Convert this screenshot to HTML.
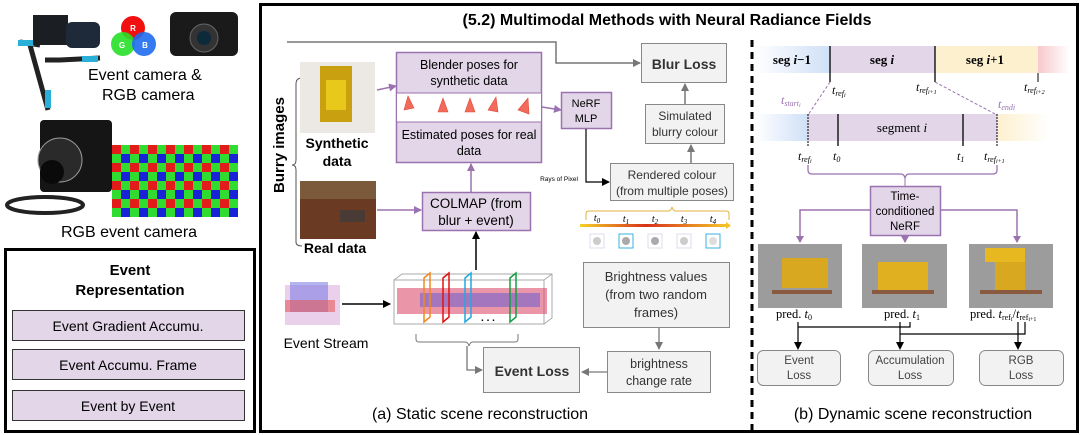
<!DOCTYPE html>
<html><head><meta charset="utf-8"><style>
body{margin:0;background:#fff;width:1081px;height:435px;overflow:hidden}
svg{display:block;font-family:"Liberation Sans",sans-serif}
.s{font-family:"Liberation Serif",serif}
</style></head><body>
<svg width="1081" height="435" viewBox="0 0 1081 435">
<defs>
<marker id="ap" markerWidth="8" markerHeight="8" refX="7" refY="4" orient="auto" markerUnits="userSpaceOnUse"><path d="M0,0 L8,4 L0,8 z" fill="#9b72b0"/></marker>
<marker id="ag" markerWidth="8" markerHeight="8" refX="7" refY="4" orient="auto" markerUnits="userSpaceOnUse"><path d="M0,0 L8,4 L0,8 z" fill="#777"/></marker>
<marker id="ak" markerWidth="8" markerHeight="8" refX="7" refY="4" orient="auto" markerUnits="userSpaceOnUse"><path d="M0,0 L8,4 L0,8 z" fill="#000"/></marker>
<pattern id="bayer" width="18" height="18" patternUnits="userSpaceOnUse" x="112" y="145">
<rect width="9" height="9" fill="#e21b1b"/><rect x="9" width="9" height="9" fill="#2fdc2f"/><rect y="9" width="9" height="9" fill="#2fdc2f"/><rect x="9" y="9" width="9" height="9" fill="#1a22d8"/>
</pattern>
<linearGradient id="gb" x1="0" x2="1"><stop offset="0" stop-color="#fff"/><stop offset="1" stop-color="#cfe0f7"/></linearGradient>
<linearGradient id="gy" x1="0" x2="1"><stop offset="0" stop-color="#fdf0cf"/><stop offset="1" stop-color="#fff"/></linearGradient>
<linearGradient id="gr" x1="0" x2="1"><stop offset="0" stop-color="#f7c9cc"/><stop offset="1" stop-color="#fff"/></linearGradient>
<linearGradient id="tl" x1="0" x2="1"><stop offset="0" stop-color="#f5d22a"/><stop offset="0.45" stop-color="#d6321a"/><stop offset="1" stop-color="#f5c22a"/></linearGradient>
</defs>

<g>
<path d="M30 45 L48 110 M45 60 L60 60 L100 58 M40 45 L20 42" stroke="#222" stroke-width="5"/>
<rect x="18" y="40" width="16" height="6" fill="#2ab0d8"/><rect x="82" y="56" width="16" height="6" fill="#2ab0d8"/><rect x="45" y="90" width="6" height="18" fill="#2ab0d8"/>
<rect x="33" y="15" width="35" height="30" fill="#1b1f24"/><rect x="66" y="22" width="34" height="26" rx="6" fill="#1e2a3a"/>
<circle cx="133" cy="28" r="12" fill="#f01010"/><circle cx="123" cy="44" r="12" fill="#27e027" opacity=".9"/><circle cx="144" cy="44" r="12" fill="#1f6cf0" opacity=".9"/>
<text x="133" y="31" font-size="8" fill="#fff" text-anchor="middle" font-weight="bold">R</text>
<text x="122" y="48" font-size="8" fill="#fff" text-anchor="middle" font-weight="bold">G</text>
<text x="145" y="48" font-size="8" fill="#fff" text-anchor="middle" font-weight="bold">B</text>
<rect x="170" y="12" width="68" height="44" rx="6" fill="#1a1a1a"/><circle cx="204" cy="38" r="14" fill="#333" stroke="#666"/><circle cx="204" cy="38" r="7" fill="#0d2a3a"/>
<text x="88" y="80" font-size="16">Event camera &amp;</text>
<text x="102" y="100" font-size="16">RGB camera</text>
<rect x="40" y="120" width="72" height="72" rx="4" fill="#151515"/><circle cx="60" cy="160" r="22" fill="#2a2a2a" stroke="#999"/><circle cx="52" cy="172" r="12" fill="#0a0a0a"/>
<ellipse cx="45" cy="205" rx="38" ry="8" fill="none" stroke="#222" stroke-width="4"/>
<rect x="112" y="145" width="126" height="72" fill="url(#bayer)"/>
<text x="61" y="237" font-size="16">RGB event camera</text>
</g>

<rect x="5.5" y="249.5" width="249" height="182" fill="#fff" stroke="#000" stroke-width="3"/>
<text x="130" y="275" font-size="15" font-weight="bold" text-anchor="middle">Event</text>
<text x="130" y="295" font-size="15" font-weight="bold" text-anchor="middle">Representation</text>
<g font-size="14" text-anchor="middle">
<rect x="12.5" y="310.5" width="232" height="30" fill="#e2d6e8" stroke="#333"/><text x="128" y="331">Event Gradient Accumu.</text>
<rect x="12.5" y="349.5" width="232" height="30" fill="#e2d6e8" stroke="#333"/><text x="128" y="370">Event Accumu. Frame</text>
<rect x="12.5" y="390.5" width="232" height="30" fill="#e2d6e8" stroke="#333"/><text x="128" y="411">Event by Event</text>
</g>

<rect x="260.5" y="4.5" width="817" height="427" fill="none" stroke="#000" stroke-width="3"/>
<text x="667" y="25" font-size="16" font-weight="bold" text-anchor="middle">(5.2) Multimodal Methods with Neural Radiance Fields</text>
<line x1="752" y1="40" x2="752" y2="430" stroke="#000" stroke-width="3" stroke-dasharray="7,5"/>

<text transform="translate(284,145) rotate(-90)" font-size="15" font-weight="bold" text-anchor="middle">Burry images</text>
<path d="M302 78 Q296 78 296 84 L296 160 Q296 165 292 165 Q296 165 296 170 L296 242 Q296 246 302 246" fill="none" stroke="#555"/>
<rect x="300" y="62" width="75" height="71" fill="#ece9e4"/><rect x="320" y="66" width="32" height="56" fill="#c8a010"/><rect x="326" y="80" width="20" height="30" fill="#e8c81a"/>
<text x="337" y="148" font-size="14" font-weight="bold" text-anchor="middle">Synthetic</text>
<text x="337" y="166" font-size="14" font-weight="bold" text-anchor="middle">data</text>
<rect x="300" y="181" width="76" height="58" fill="#6a3a22"/><rect x="300" y="181" width="76" height="18" fill="#7a5a3a"/><rect x="340" y="210" width="25" height="12" fill="#4a3a35"/>
<text x="335" y="253" font-size="14" font-weight="bold" text-anchor="middle">Real data</text>

<path d="M287 42 H556 V63 H640" fill="none" stroke="#777" stroke-width="1.5" marker-end="url(#ag)"/>
<line x1="377" y1="90" x2="396" y2="86" stroke="#9b72b0" stroke-width="1.5" marker-end="url(#ap)"/>
<line x1="377" y1="210" x2="421" y2="210" stroke="#9b72b0" stroke-width="1.5" marker-end="url(#ap)"/>

<rect x="396.5" y="52.5" width="145" height="110" fill="#e2d6e8" stroke="#9b72b0" stroke-width="1.5"/>
<rect x="397" y="93" width="144" height="29" fill="#fff"/>
<line x1="397" y1="93" x2="541" y2="93" stroke="#9b72b0"/><line x1="397" y1="122" x2="541" y2="122" stroke="#9b72b0"/>
<g fill="#f26a5a" stroke="#e04a3a" stroke-width=".6">
<path d="M404 110 l4 -14 l6 12 z"/><path d="M438 112 l5 -14 l5 14 z"/><path d="M465 112 l5 -14 l5 14 z"/><path d="M488 110 l8 -13 l2 15 z"/><path d="M518 110 l10 -12 l1 16 z"/>
</g>
<g font-size="12.5" text-anchor="middle">
<text x="469" y="69">Blender poses for</text><text x="469" y="85">synthetic data</text>
<text x="469" y="139">Estimated poses for real</text><text x="469" y="155">data</text>
</g>
<line x1="542" y1="107" x2="561" y2="110" stroke="#9b72b0" stroke-width="1.5" marker-end="url(#ap)"/>
<rect x="561.5" y="92.5" width="50" height="36" fill="#e2d6e8" stroke="#9b72b0" stroke-width="1.5"/>
<text x="586" y="107" font-size="11" text-anchor="middle">NeRF</text><text x="586" y="122" font-size="11" text-anchor="middle">MLP</text>

<rect x="422.5" y="192.5" width="108" height="38" fill="#e2d6e8" stroke="#9b72b0" stroke-width="1.5"/>
<text x="476" y="208" font-size="13.5" text-anchor="middle">COLMAP (from</text><text x="476" y="225" font-size="13.5" text-anchor="middle">blur + event)</text>
<line x1="471" y1="192" x2="471" y2="164" stroke="#9b72b0" stroke-width="1.5" marker-end="url(#ap)"/>
<line x1="476" y1="270" x2="476" y2="232" stroke="#000" stroke-width="1.5" marker-end="url(#ak)"/>

<rect x="641.5" y="43.5" width="85" height="39" fill="#f2f2f2" stroke="#888"/>
<text x="684" y="69" font-size="14" font-weight="bold" fill="#333" text-anchor="middle">Blur Loss</text>
<rect x="645.5" y="104.5" width="79" height="39" fill="#f2f2f2" stroke="#888"/>
<text x="685" y="120" font-size="12" fill="#333" text-anchor="middle">Simulated</text><text x="685" y="136" font-size="12" fill="#333" text-anchor="middle">blurry colour</text>
<line x1="685" y1="104" x2="685" y2="84" stroke="#777" stroke-width="1.5" marker-end="url(#ag)"/>
<rect x="610.5" y="163.5" width="123" height="37" fill="#f2f2f2" stroke="#888"/>
<text x="672" y="179" font-size="12" fill="#333" text-anchor="middle">Rendered colour</text><text x="672" y="195" font-size="12" fill="#333" text-anchor="middle">(from multiple poses)</text>
<line x1="691" y1="163" x2="691" y2="145" stroke="#777" stroke-width="1.5" marker-end="url(#ag)"/>
<path d="M586 129 V182 H609" fill="none" stroke="#000" stroke-width="1.2" marker-end="url(#ak)"/>
<text x="578" y="181" font-size="6.5" text-anchor="end">Rays of Pixel</text>
<path d="M586 220 v-6 q0 -3 3 -3 h79 q3 0 4 -4 q1 4 4 4 h50 q3 0 3 3 v6" fill="none" stroke="#e0b040"/>
<rect x="580" y="224" width="146" height="3" fill="url(#tl)"/><path d="M726 222 l5 3.5 l-5 3.5z" fill="#f5c22a"/>
<g class="s" font-size="10" font-style="italic" text-anchor="middle">
<text x="597" y="221">t<tspan font-size="7" dy="2">0</tspan></text><text x="626" y="222">t<tspan font-size="7" dy="2">1</tspan></text><text x="655" y="222">t<tspan font-size="7" dy="2">2</tspan></text><text x="684" y="222">t<tspan font-size="7" dy="2">3</tspan></text><text x="713" y="222">t<tspan font-size="7" dy="2">4</tspan></text>
</g>
<g>
<rect x="590" y="234" width="14" height="14" fill="#fff" stroke="#dde"/><circle cx="597" cy="241" r="4" fill="#ccc"/>
<rect x="619" y="234" width="14" height="14" fill="#fff" stroke="#3ab0e0"/><circle cx="626" cy="241" r="4" fill="#aaa"/>
<rect x="648" y="234" width="14" height="14" fill="#fff" stroke="#dde"/><circle cx="655" cy="241" r="4" fill="#aaa"/>
<rect x="677" y="234" width="14" height="14" fill="#fff" stroke="#dde"/><circle cx="684" cy="241" r="4" fill="#ccc"/>
<rect x="706" y="234" width="14" height="14" fill="#fff" stroke="#3ab0e0"/><circle cx="713" cy="241" r="4" fill="#ddd"/>
</g>

<g opacity=".85">
<rect x="285" y="285" width="55" height="40" fill="#e8c8e8"/>
<rect x="290" y="282" width="38" height="30" fill="#6a6ae0" opacity=".6"/><rect x="285" y="300" width="50" height="12" fill="#e04040" opacity=".6"/>
</g>
<text x="326" y="348" font-size="14" text-anchor="middle">Event Stream</text>
<line x1="342" y1="304" x2="390" y2="304" stroke="#000" stroke-width="1.5" marker-end="url(#ak)"/>
<g stroke="#aaa" fill="none"><rect x="394" y="280" width="150" height="44"/><path d="M394 280 l8 -6 h150 v44 l-8 6 M544 280 l8 -6"/></g>
<rect x="397" y="288" width="150" height="26" fill="#d84060" opacity=".55"/><rect x="420" y="293" width="120" height="14" fill="#5050d8" opacity=".45"/>
<g fill="none" stroke-width="1.5"><path d="M424 278 l6 -5 v44 l-6 5z" stroke="#f08a20"/><path d="M443 278 l6 -5 v44 l-6 5z" stroke="#e01010"/><path d="M465 278 l6 -5 v44 l-6 5z" stroke="#20a8e0"/><path d="M510 278 l6 -5 v44 l-6 5z" stroke="#10a040"/></g>
<text x="488" y="321" font-size="10" text-anchor="middle" font-weight="bold">. . .</text>
<path d="M416 334 v5 q0 3 3 3 h46 q3 0 4 4 q1 -4 4 -4 h42 q3 0 3 -3 v-5" fill="none" stroke="#777"/>
<path d="M467 346 V370 H482" fill="none" stroke="#777" stroke-width="1.3" marker-end="url(#ag)"/>
<rect x="483.5" y="347.5" width="96" height="45" fill="#f2f2f2" stroke="#888"/>
<text x="532" y="376" font-size="14" font-weight="bold" fill="#333" text-anchor="middle">Event Loss</text>
<rect x="583.5" y="262.5" width="146" height="65" fill="#f2f2f2" stroke="#888"/>
<g font-size="13" fill="#333" text-anchor="middle"><text x="656" y="281">Brightness values</text><text x="656" y="299">(from two random</text><text x="656" y="317">frames)</text></g>
<line x1="659" y1="328" x2="659" y2="349" stroke="#777" stroke-width="1.3" marker-end="url(#ag)"/>
<rect x="607.5" y="351.5" width="103" height="41" fill="#f2f2f2" stroke="#888"/>
<text x="659" y="368" font-size="12.5" fill="#333" text-anchor="middle">brightness</text><text x="659" y="385" font-size="12.5" fill="#333" text-anchor="middle">change rate</text>
<line x1="607" y1="372" x2="582" y2="372" stroke="#777" stroke-width="1.3" marker-end="url(#ag)"/>
<text x="480" y="419" font-size="16" text-anchor="middle">(a) Static scene reconstruction</text>

<rect x="755" y="46" width="75" height="27" fill="url(#gb)"/><rect x="830" y="46" width="105" height="27" fill="#e2d6e8"/><rect x="935" y="46" width="103" height="27" fill="#fdf0cf"/><rect x="1038" y="46" width="32" height="27" fill="url(#gr)"/>
<line x1="830" y1="46" x2="830" y2="82" stroke="#000" stroke-width="1.3"/><line x1="935" y1="46" x2="935" y2="82" stroke="#000" stroke-width="1.3"/><line x1="1038" y1="73" x2="1038" y2="82" stroke="#000"/>
<g class="s" font-size="13" font-weight="bold" text-anchor="middle"><text x="792" y="64">seg <tspan font-style="italic">i</tspan>−1</text><text x="882" y="64">seg <tspan font-style="italic">i</tspan></text><text x="985" y="64">seg <tspan font-style="italic">i</tspan>+1</text></g>
<g class="s" font-size="12" font-style="italic">
<text x="832" y="94">t<tspan font-size="8" dy="2">ref<tspan font-size="6" dy="1">i</tspan></tspan></text>
<text x="916" y="91">t<tspan font-size="8" dy="2">ref<tspan font-size="6" dy="1">i+1</tspan></tspan></text>
<text x="1024" y="91">t<tspan font-size="8" dy="2">ref<tspan font-size="6" dy="1">i+2</tspan></tspan></text>
<text x="781" y="104" fill="#9b72b0">t<tspan font-size="8" dy="2">start<tspan font-size="6" dy="1">i</tspan></tspan></text>
<text x="998" y="108" fill="#9b72b0">t<tspan font-size="8" dy="2">endi</tspan></text>
</g>
<path d="M830 82 L808 115 M935 82 L997 115" stroke="#9b72b0" stroke-dasharray="3,2" fill="none"/>
<rect x="755" y="114" width="53" height="27" fill="url(#gb)"/><rect x="808" y="114" width="189" height="27" fill="#e2d6e8"/><rect x="997" y="114" width="53" height="27" fill="url(#gy)"/>
<line x1="808" y1="114" x2="808" y2="146" stroke="#000" stroke-dasharray="2,1"/><line x1="838" y1="114" x2="838" y2="146" stroke="#000" stroke-width="1.3"/><line x1="963" y1="114" x2="963" y2="146" stroke="#000" stroke-width="1.3"/><line x1="997" y1="114" x2="997" y2="146" stroke="#000" stroke-dasharray="2,1"/>
<text x="902" y="132" class="s" font-size="13" text-anchor="middle">segment <tspan font-style="italic">i</tspan></text>
<g class="s" font-size="12" font-style="italic">
<text x="798" y="160">t<tspan font-size="8" dy="2">ref<tspan font-size="6" dy="1">i</tspan></tspan></text>
<text x="833" y="160">t<tspan font-size="8" dy="2">0</tspan></text>
<text x="957" y="160">t<tspan font-size="8" dy="2">1</tspan></text>
<text x="984" y="160">t<tspan font-size="8" dy="2">ref<tspan font-size="6" dy="1">i+1</tspan></tspan></text>
</g>
<path d="M808 165 v5 q0 4 4 4 h89 q3 0 4 4 q1 -4 4 -4 h84 q4 0 4 -4 v-5" fill="none" stroke="#9b72b0" stroke-width="1.3"/>
<line x1="905" y1="178" x2="905" y2="186" stroke="#9b72b0"/>
<rect x="870.5" y="186.5" width="70" height="49" fill="#e2d6e8" stroke="#9b72b0" stroke-width="1.5"/>
<g font-size="11.5" text-anchor="middle"><text x="905" y="200">Time-</text><text x="905" y="215">conditioned</text><text x="905" y="230">NeRF</text></g>
<path d="M870 210 H800 V242 M905 236 V242 M940 210 H1017 V242" fill="none" stroke="#9b72b0" stroke-width="1.5"/>
<path d="M796 236 l4 7 l4 -7z M901 236 l4 7 l4 -7z M1013 236 l4 7 l4 -7z" fill="#9b72b0"/>
<g>
<rect x="758" y="244" width="84" height="64" fill="#9c9c9c"/><rect x="782" y="258" width="46" height="30" fill="#d8a820"/><rect x="772" y="290" width="60" height="4" fill="#8a5a40"/>
<rect x="862" y="244" width="85" height="64" fill="#9c9c9c"/><rect x="878" y="262" width="50" height="28" fill="#e0b020"/><rect x="872" y="290" width="62" height="4" fill="#8a5a40"/>
<rect x="969" y="244" width="84" height="64" fill="#9c9c9c"/><rect x="985" y="248" width="40" height="14" fill="#e8b820"/><rect x="995" y="262" width="30" height="28" fill="#d8a820"/><rect x="980" y="290" width="62" height="4" fill="#8a5a40"/>
</g>
<g class="s" font-size="12.5"><text x="776" y="318">pred. <tspan font-style="italic">t</tspan><tspan font-size="8" dy="2">0</tspan></text><text x="884" y="318">pred. <tspan font-style="italic">t</tspan><tspan font-size="8" dy="2">1</tspan></text>
<text x="970" y="318">pred. <tspan font-style="italic">t</tspan><tspan font-size="8" dy="2">ref<tspan font-size="6" dy="1">i</tspan></tspan><tspan dy="-3">/</tspan><tspan font-style="italic">t</tspan><tspan font-size="8" dy="2">ref<tspan font-size="6" dy="1">i+1</tspan></tspan></text></g>
<g fill="none" stroke="#000" stroke-width="1.2">
<path d="M798 322 V346 M798 327 H910 V322 M900 322 V346 M900 334 H1025 V322 M1018 322 V346"/>
</g>
<path d="M794 342 l4 8 l4 -8z M896 342 l4 8 l4 -8z M1014 342 l4 8 l4 -8z" fill="#000"/>
<g font-size="11.5" fill="#444" text-anchor="middle">
<rect x="757.5" y="350.5" width="83" height="35" rx="6" fill="#f2f2f2" stroke="#888"/><text x="799" y="364">Event</text><text x="799" y="379">Loss</text>
<rect x="868.5" y="350.5" width="85" height="35" rx="6" fill="#f2f2f2" stroke="#888"/><text x="910" y="364">Accumulation</text><text x="910" y="379">Loss</text>
<rect x="979.5" y="350.5" width="84" height="35" rx="6" fill="#f2f2f2" stroke="#888"/><text x="1021" y="364">RGB</text><text x="1021" y="379">Loss</text>
</g>
<text x="913" y="419" font-size="16" text-anchor="middle">(b) Dynamic scene reconstruction</text>
</svg>
</body></html>
